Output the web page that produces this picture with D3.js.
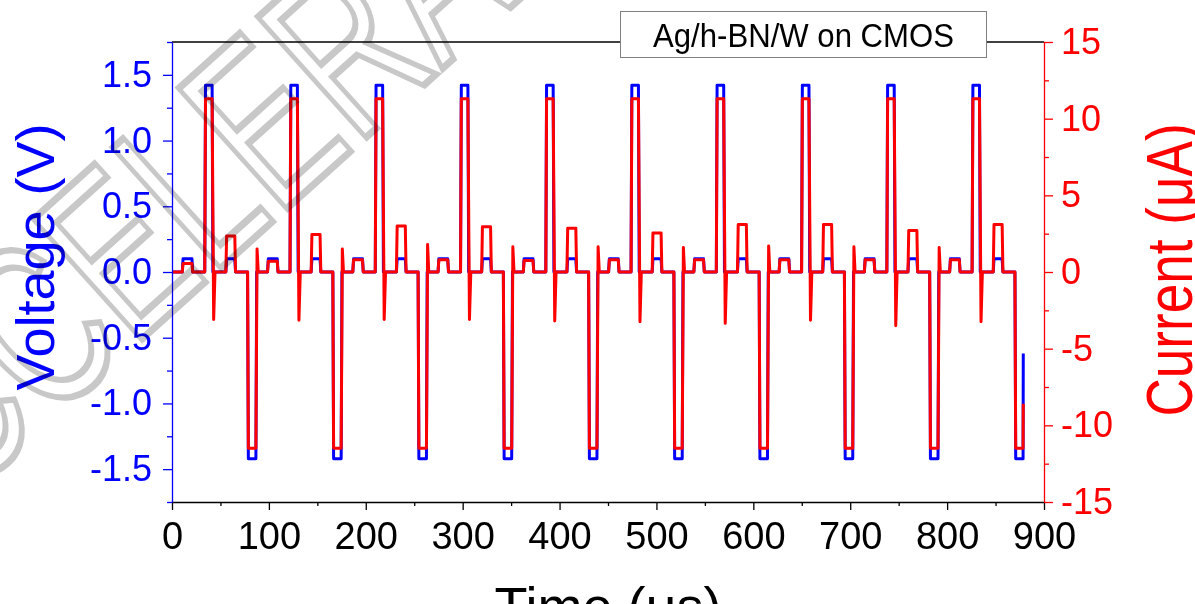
<!DOCTYPE html>
<html>
<head>
<meta charset="utf-8">
<script src="https://cdn.jsdelivr.net/npm/d3@7"></script>
<style>
body { margin: 0; background: #fff; }
text { font-family: Arial, "Liberation Sans", sans-serif; }
</style>
</head>
<body>
<svg id="chart" width="1195" height="604"></svg>
<script>
// values (time in us, voltage in V, current in uA)
var cycleStart = [0, 88, 176, 264, 352, 440, 528, 616, 704, 792];
var readHrsCurrent = [0.55, 0.7, 0.8, 0.8, 0.75, 0.8, 0.8, 0.8, 0.8, 0.8];
var setCurrent = [11.3, 11.3, 11.3, 11.3, 11.3, 11.3, 11.3, 11.3, 11.3, 11.3];
var setDip = [-3.1, -3.15, -3.1, -3.1, -3.2, -3.25, -3.35, -3.15, -3.5, -3.25];
var readLrsCurrent = [2.35, 2.45, 3.0, 2.95, 2.85, 2.55, 3.1, 3.1, 2.7, 3.1];
var resetCurrent = [-11.5, -11.5, -11.5, -11.5, -11.5, -11.5, -11.5, -11.5, -11.5, -11.5];
var resetKick = [1.5, 1.5, 1.8, 1.65, 1.65, 1.6, 1.7, 1.65, 1.6];
var readVolt = 0.1, setVolt = 1.42, resetVolt = -1.42;
var endTime = 878.6, endVolt = -0.62, endCurrent = -8.6;

var timeTicks = [0, 100, 200, 300, 400, 500, 600, 700, 800, 900];
var timeMinor = [50, 150, 250, 350, 450, 550, 650, 750, 850];
var voltTicks = [-1.5, -1.0, -0.5, 0.0, 0.5, 1.0, 1.5];
var voltMinor = [-1.75, -1.25, -0.75, -0.25, 0.25, 0.75, 1.25, 1.75];
var currTicks = [-15, -10, -5, 0, 5, 10, 15];
var currMinor = [-12.5, -7.5, -2.5, 2.5, 7.5, 12.5];

// build the two traces cycle by cycle
var voltData = [[0, 0]];
var currData = [[0, 0]];
cycleStart.forEach(function (t0, k) {
	var last = (k == cycleStart.length - 1);
	voltData.push([t0 + 1.5, 0], [t0 + 10.6, 0], [t0 + 11.4, readVolt], [t0 + 20.6, readVolt], [t0 + 21.4, 0],
		[t0 + 33.8, 0], [t0 + 34.6, setVolt], [t0 + 41.4, setVolt], [t0 + 42.2, 0],
		[t0 + 55.6, 0], [t0 + 56.4, readVolt], [t0 + 64.8, readVolt], [t0 + 65.6, 0],
		[t0 + 78, 0], [t0 + 78.8, resetVolt]);
	currData.push([t0 + 1.5, 0], [t0 + 10.6, 0], [t0 + 11.4, readHrsCurrent[k]], [t0 + 20.6, readHrsCurrent[k]], [t0 + 21.4, 0],
		[t0 + 33.8, 0], [t0 + 34.6, setCurrent[k]], [t0 + 41.4, setCurrent[k]], [t0 + 43.0, setDip[k]], [t0 + 44.4, 0],
		[t0 + 55.6, 0], [t0 + 56.4, readLrsCurrent[k]], [t0 + 64.8, readLrsCurrent[k]], [t0 + 65.6, 0],
		[t0 + 78, 0], [t0 + 78.8, resetCurrent[k]]);
	if (!last) {
		voltData.push([t0 + 86.6, resetVolt], [t0 + 87.4, 0]);
		currData.push([t0 + 86.6, resetCurrent[k]], [t0 + 87.8, resetKick[k]], [t0 + 89.0, 0]);
	} else {
		voltData.push([endTime - 0.2, resetVolt], [endTime, endVolt]);
		currData.push([endTime - 0.2, resetCurrent[k]], [endTime, endCurrent]);
	}
});

var svg = d3.select("#chart");
var plotL = 172, plotR = 1044, plotT = 42, plotB = 502;

var x = d3.scaleLinear().domain([0, 900]).range([plotL, plotR]);
var yV = d3.scaleLinear().domain([-1.75, 1.75]).range([plotB, plotT]);
var yI = d3.scaleLinear().domain([-15, 15]).range([plotB, plotT]);

// traces
var lineV = d3.line().x(function (d) { return x(d[0]); }).y(function (d) { return yV(d[1]); });
var lineI = d3.line().x(function (d) { return x(d[0]); }).y(function (d) { return yI(d[1]); });

svg.append("path").datum(voltData)
	.attr("d", lineV)
	.attr("fill", "none").attr("stroke", "#0000ff").attr("stroke-width", 3)
	.attr("stroke-linejoin", "round");
svg.append("path").datum(currData)
	.attr("d", lineI)
	.attr("fill", "none").attr("stroke", "#ff0000").attr("stroke-width", 3)
	.attr("stroke-linejoin", "round");

// top frame line
svg.append("line")
	.attr("x1", plotL).attr("x2", plotR).attr("y1", plotT).attr("y2", plotT)
	.attr("stroke", "#000").attr("stroke-width", 1.5);

// axes
var styleAxis = function (g, color, size) {
	g.select(".domain").attr("stroke", color).attr("stroke-width", 1.3);
	g.selectAll(".tick line").attr("stroke", color).attr("stroke-width", 1.3);
	g.selectAll(".tick text").attr("fill", color).style("font-size", size + "px")
		.style("font-family", "Arial, 'Liberation Sans', sans-serif");
};
var minorTicks = function (g, color) {
	g.select(".domain").remove();
	g.selectAll(".tick line").attr("stroke", color).attr("stroke-width", 1.3);
};

var gB = svg.append("g").attr("transform", "translate(0," + plotB + ")")
	.call(d3.axisBottom(x).tickValues(timeTicks).tickSize(8).tickSizeOuter(0).tickPadding(12)
		.tickFormat(function (d) { return String(d); }));
styleAxis(gB, "#000", 38);
svg.append("g").attr("transform", "translate(0," + plotB + ")")
	.call(d3.axisBottom(x).tickValues(timeMinor).tickSize(4).tickFormat(""))
	.call(minorTicks, "#000");

var gL = svg.append("g").attr("transform", "translate(" + plotL + ",0)")
	.call(d3.axisLeft(yV).tickValues(voltTicks).tickSize(9).tickSizeOuter(0).tickPadding(11)
		.tickFormat(function (d) { return d.toFixed(1); }));
styleAxis(gL, "#0000ff", 36);
svg.append("g").attr("transform", "translate(" + plotL + ",0)")
	.call(d3.axisLeft(yV).tickValues(voltMinor).tickSize(5).tickFormat(""))
	.call(minorTicks, "#0000ff");

var gR = svg.append("g").attr("transform", "translate(" + plotR + ",0)")
	.call(d3.axisRight(yI).tickValues(currTicks).tickSize(9).tickSizeOuter(0).tickPadding(8)
		.tickFormat(function (d) { return String(d); }));
styleAxis(gR, "#ff0000", 36);
svg.append("g").attr("transform", "translate(" + plotR + ",0)")
	.call(d3.axisRight(yI).tickValues(currMinor).tickSize(5).tickFormat(""))
	.call(minorTicks, "#ff0000");

// axis titles
svg.append("text")
	.attr("transform", "translate(54,257) rotate(-90)")
	.attr("text-anchor", "middle")
	.attr("fill", "#0000ff").style("font-size", "54px")
	.text("Voltage (V)");
svg.append("text")
	.attr("transform", "translate(1192,270) rotate(-90) scale(0.83,1)")
	.attr("text-anchor", "middle")
	.attr("fill", "#ff0000").style("font-size", "64px")
	.text("Current (\u03bcA)");
svg.append("text")
	.attr("x", (plotL + plotR) / 2).attr("y", 625)
	.attr("text-anchor", "middle")
	.attr("fill", "#000").style("font-size", "54px")
	.text("Time (\u03bcs)");

// legend box
svg.append("rect")
	.attr("x", 620.5).attr("y", 11.5).attr("width", 366).attr("height", 46)
	.attr("fill", "#fff").attr("stroke", "#808080").attr("stroke-width", 1);
svg.append("text")
	.attr("x", 803.5).attr("y", 46.5)
	.attr("text-anchor", "middle")
	.attr("textLength", 301).attr("lengthAdjust", "spacingAndGlyphs")
	.style("font-size", "33px").attr("fill", "#000")
	.text("Ag/h-BN/W on CMOS");

// watermark
svg.append("text")
	.attr("transform", "translate(-119,574) rotate(-42) scale(0.68,1)")
	.style("font-size", "235px")
	.attr("fill", "none").attr("stroke", "#c8c8c8").attr("stroke-width", 7)
	.style("mix-blend-mode", "multiply")
	.text("ACCELERATED ARTICLE PREVIEW");
</script>
</body>
</html>
